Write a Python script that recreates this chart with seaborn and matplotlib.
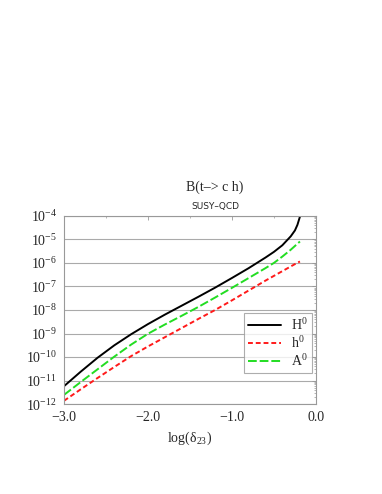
import matplotlib
matplotlib.use("Agg")
import matplotlib.pyplot as plt
import matplotlib.ticker as mticker
import numpy as np
import pandas as pd
import seaborn as sns

# log10(delta_23) grid and log10 of the branching ratios
log_delta = [-3.0, -2.8, -2.6, -2.4, -2.2, -2.0, -1.8, -1.6, -1.4, -1.2,
             -1.0, -0.8, -0.6, -0.5, -0.4, -0.3, -0.25, -0.22, -0.19]
log_B_H0 = [-11.24, -10.62, -10.03, -9.50, -9.03, -8.60, -8.20, -7.82, -7.44, -7.05,
            -6.64, -6.22, -5.77, -5.53, -5.25, -4.87, -4.62, -4.38, -4.03]
log_B_h0 = [-11.86, -11.37, -10.89, -10.42, -9.96, -9.55, -9.16, -8.77, -8.38, -8.00,
            -7.59, -7.17, -6.75, -6.55, -6.35, -6.15, -6.05, -5.99, -5.94]
log_B_A0 = [-11.61, -11.06, -10.52, -9.98, -9.47, -9.01, -8.62, -8.25, -7.87, -7.47,
            -7.06, -6.64, -6.22, -6.00, -5.73, -5.44, -5.28, -5.18, -5.09]

series_labels = [r"$\mathregular{H^0}$", r"$\mathregular{h^0}$", r"$\mathregular{A^0}$"]
x_ticks = [-3.0, -2.0, -1.0, 0.0]
x_ticklabels = ["\u22123.0", "\u22122.0", "\u22121.0", "0.0"]
y_ticks = [1e-12, 1e-11, 1e-10, 1e-9, 1e-8, 1e-7, 1e-6, 1e-5, 1e-4]

rows = []
for label, vals in zip(series_labels, [log_B_H0, log_B_h0, log_B_A0]):
    for x, v in zip(log_delta, vals):
        rows.append({"x": x, "B": 10.0 ** v, "state": label})
df = pd.DataFrame(rows)

sns.set_style("white")
plt.rcParams["font.family"] = ["Liberation Serif", "DejaVu Serif"]
plt.rcParams["mathtext.fontset"] = "custom"
plt.rcParams["mathtext.rm"] = "Liberation Serif"
plt.rcParams["mathtext.it"] = "Liberation Serif:italic"
plt.rcParams["mathtext.default"] = "regular"

fig = plt.figure(figsize=(3.82, 4.94), dpi=100)
ax = fig.add_axes([0.1675, 0.182, 0.6595, 0.381])

palette = {series_labels[0]: "black", series_labels[1]: "#ff1a1a", series_labels[2]: "#22dd22"}
dashes = {series_labels[0]: "", series_labels[1]: (2.5, 1.5), series_labels[2]: (4.5, 1.5)}

sns.lineplot(data=df, x="x", y="B", hue="state", style="state",
             palette=palette, dashes=dashes, linewidth=1.4, ax=ax)

ax.set_yscale("log")
ax.set_xlim(-3.0, 0.0)
ax.set_ylim(1e-12, 1e-4)

ax.set_xticks(x_ticks)
ax.set_xticklabels(x_ticklabels)
ax.xaxis.set_minor_locator(mticker.MultipleLocator(0.5))
ax.set_yticks(y_ticks)
ax.yaxis.set_major_formatter(mticker.FuncFormatter(
    lambda v, p: r"$10^{%d}$" % int(round(np.log10(v)))))
ax.yaxis.set_minor_locator(mticker.LogLocator(base=10, subs=np.arange(2, 10), numticks=20))
ax.yaxis.set_minor_formatter(mticker.NullFormatter())

ax.tick_params(which="both", direction="in", top=True, right=True, color="#999999")
ax.tick_params(which="major", length=3, width=0.6, labelsize=10, pad=5)
ax.tick_params(which="minor", length=1.5, width=0.5)

ax.grid(axis="y", which="major", color="#aaaaaa", linewidth=0.8)
for sp in ax.spines.values():
    sp.set_color("#999999")
    sp.set_linewidth(0.8)

ax.set_xlabel(r"log($\mathregular{\delta_{23}}$)", fontsize=10, labelpad=4)
ax.set_ylabel("")

fig.text(0.5625, 1 - 187 / 494, "B(t\u2013> c h)", ha="center", va="center", fontsize=10)
fig.text(0.5625, 1 - 206 / 494, "SUSY\u2013QCD", ha="center", va="center",
         fontsize=6.5, family="DejaVu Sans")

leg = ax.legend(loc="lower right", bbox_to_anchor=(0.984, 0.165), fontsize=10,
                frameon=True, fancybox=False, handlelength=2.4, borderpad=0.3,
                labelspacing=0.15, handletextpad=0.7, borderaxespad=0)
leg.get_frame().set_edgecolor("#999999")
leg.get_frame().set_linewidth(0.8)

fig.savefig("out.png", dpi=100)
